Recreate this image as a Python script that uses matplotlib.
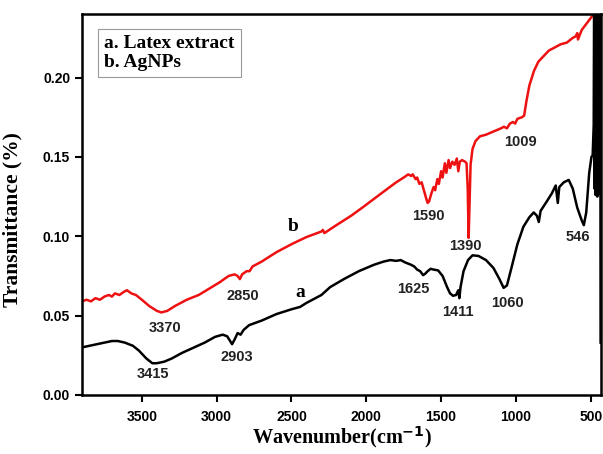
import numpy as np
import matplotlib.pyplot as plt

# wavenumber (cm-1) and transmittance values
red_wn = [3900, 3870, 3840, 3810, 3780, 3750, 3720, 3700, 3680, 3650, 3620, 3600,
          3570, 3540, 3500, 3450, 3400, 3370, 3330, 3280, 3200, 3120, 3050, 2980,
          2920, 2880, 2860, 2845, 2830, 2800, 2780, 2760, 2700, 2600, 2500, 2400,
          2300, 2290, 2280, 2200, 2100, 2020, 1900, 1800, 1750, 1720, 1700, 1690,
          1670, 1660, 1645, 1630, 1615, 1600, 1590, 1580, 1565, 1550, 1540, 1525,
          1515, 1500, 1490, 1475, 1465, 1450, 1440, 1425, 1410, 1395, 1385, 1375,
          1360, 1340, 1330, 1322, 1316, 1310, 1303, 1290, 1270, 1240, 1200, 1150,
          1100, 1080, 1060, 1040, 1020, 1005, 990, 960, 945, 930, 910, 880, 850,
          800, 780, 740, 700, 660, 620, 600, 590, 585, 560, 520, 480, 450]
red_t = [0.059, 0.060, 0.059, 0.061, 0.060, 0.062, 0.063, 0.062, 0.064, 0.063, 0.065, 0.066,
         0.064, 0.063, 0.060, 0.056, 0.053, 0.052, 0.053, 0.056, 0.060, 0.063, 0.067, 0.071,
         0.075, 0.076, 0.075, 0.073, 0.076, 0.078, 0.078, 0.081, 0.084, 0.090, 0.095, 0.0995,
         0.103, 0.104, 0.102, 0.107, 0.113, 0.1185, 0.127, 0.134, 0.137, 0.139, 0.138, 0.139,
         0.136, 0.137, 0.133, 0.134, 0.129, 0.124, 0.121, 0.122, 0.127, 0.131, 0.129, 0.136,
         0.133, 0.141, 0.137, 0.146, 0.140, 0.148, 0.143, 0.147, 0.145, 0.149, 0.141, 0.147,
         0.148, 0.147, 0.146, 0.130, 0.099, 0.120, 0.145, 0.155, 0.160, 0.163, 0.164, 0.166,
         0.168, 0.169, 0.168, 0.171, 0.172, 0.171, 0.174, 0.175, 0.176, 0.185, 0.195, 0.204, 0.210,
         0.215, 0.217, 0.219, 0.221, 0.222, 0.225, 0.226, 0.228, 0.224, 0.230, 0.235, 0.240, 0.245]

blk_wn = [3900, 3850, 3800, 3750, 3700, 3660, 3614, 3560, 3520, 3470, 3430, 3400,
          3350, 3300, 3232, 3150, 3080, 3011, 2960, 2930, 2910, 2897, 2880, 2860,
          2840, 2820, 2783, 2696, 2600, 2500, 2442, 2400, 2300, 2241, 2150, 2050,
          1950, 1886, 1840, 1800, 1770, 1740, 1700, 1680, 1660, 1640, 1620, 1605,
          1590, 1570, 1550, 1520, 1490, 1460, 1440, 1420, 1400, 1385, 1378, 1370,
          1350, 1320, 1290, 1250, 1200, 1150, 1110, 1082, 1060, 1030, 990, 950,
          910, 881, 860, 847, 835, 800, 760, 734, 720, 710, 680, 647, 620, 590,
          560, 546, 530, 510, 495, 487, 480, 477, 474, 471, 468, 465, 462, 459,
          456, 453, 450, 447, 444, 441, 438, 436, 434]
blk_t = [0.030, 0.031, 0.032, 0.033, 0.034, 0.034, 0.033, 0.031, 0.028, 0.023, 0.020, 0.020,
         0.021, 0.023, 0.0265, 0.030, 0.033, 0.0366, 0.038, 0.037, 0.034, 0.032, 0.035, 0.039,
         0.038, 0.041, 0.044, 0.047, 0.051, 0.054, 0.0555, 0.058, 0.063, 0.068, 0.073, 0.078,
         0.082, 0.084, 0.085, 0.0845, 0.085, 0.0835, 0.082, 0.081, 0.079, 0.078, 0.0755, 0.0765,
         0.078, 0.0795, 0.079, 0.0785, 0.075, 0.068, 0.064, 0.0625, 0.063, 0.066, 0.061, 0.068,
         0.078, 0.085, 0.088, 0.0876, 0.085, 0.080, 0.073, 0.0675, 0.069, 0.080, 0.095, 0.106,
         0.112, 0.115, 0.113, 0.109, 0.116, 0.121, 0.127, 0.132, 0.121, 0.131, 0.134, 0.1355, 0.130, 0.118,
         0.110, 0.107, 0.115, 0.140, 0.150, 0.151, 0.170, 0.260, 0.130, 0.260, 0.126, 0.260, 0.128, 0.260,
         0.125, 0.260, 0.130, 0.260, 0.127, 0.260, 0.130, 0.260, 0.033]

# peak labels: (text, wavenumber, transmittance)
peak_txt = ['3370', '3415', '2850', '2903', '1625', '1411', '1060', '1390', '546', '1590', '1009']
peak_wn = [3346, 3426, 2824, 2864, 1685, 1390, 1055, 1337, 587, 1584, 968]
peak_t = [0.0422, 0.0132, 0.0624, 0.024, 0.0668, 0.0523, 0.058, 0.094, 0.0996, 0.1129, 0.1595]

fig = plt.figure(figsize=(6.03, 4.54), dpi=100)
ax = fig.add_axes([0.136, 0.130, 0.861, 0.839])

ax.plot(red_wn, red_t, color='#ee1111', lw=1.8)
ax.plot(blk_wn, blk_t, color='black', lw=1.8)

for t, w, v in zip(peak_txt, peak_wn, peak_t):
    ax.text(w, v, t, ha='center', va='center', fontsize=10.5, fontweight='bold',
            family='Liberation Sans', color='#222222')

ax.text(2489, 0.106, 'b', ha='center', va='center', fontsize=14, fontweight='bold',
        family='Liberation Serif')
ax.text(2442, 0.0643, 'a', ha='center', va='center', fontsize=14, fontweight='bold',
        family='Liberation Serif')

ax.text(0.043, 0.945, 'a. Latex extract\nb. AgNPs', transform=ax.transAxes,
        ha='left', va='top', fontsize=14, fontweight='bold', family='Liberation Serif',
        linespacing=1.15,
        bbox=dict(boxstyle='square,pad=0.3', fc='white', ec='#999999', lw=0.8))

ax.set_xlim(3900, 430)
ax.set_ylim(0, 0.24)
ax.set_xticks([3500, 3000, 2500, 2000, 1500, 1000, 500])
ax.set_yticks([0.00, 0.05, 0.10, 0.15, 0.20])
ax.set_yticklabels(['0.00', '0.05', '0.10', '0.15', '0.20'])
ax.tick_params(direction='out', length=5, width=1.5, labelsize=10)
ax.tick_params(axis='x', pad=6)
for lab in ax.get_xticklabels() + ax.get_yticklabels():
    lab.set_fontweight('bold')
    lab.set_family('Liberation Sans')
for sp in ax.spines.values():
    sp.set_linewidth(1.8)

ax.set_xlabel('Wavenumber(cm$^{\\mathbf{-1}}$)', fontsize=14.5, fontweight='bold',
              family='Liberation Serif', labelpad=0)
ax.set_ylabel('Transmittance (%)', fontsize=15.5, fontweight='bold',
              family='Liberation Serif')
ax.yaxis.set_label_coords(-0.115, 0.46)

fig.savefig('out.png', dpi=100)
